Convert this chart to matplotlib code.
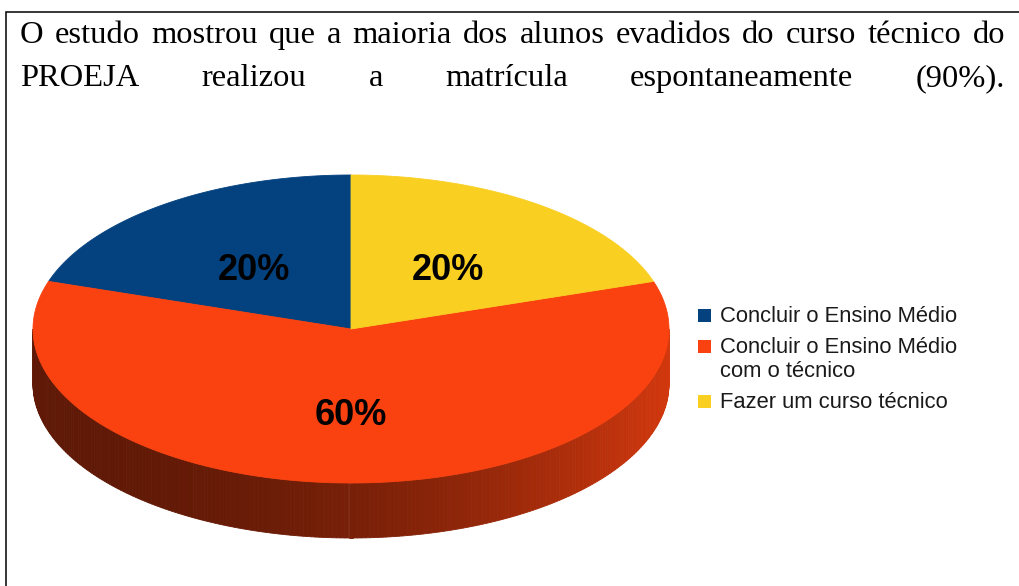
import numpy as np
import matplotlib.pyplot as plt
from matplotlib.patches import Polygon, Rectangle
from matplotlib.colors import to_rgb

# header text (justified, two lines)
header_lines = [
    "O estudo mostrou que a maioria dos alunos evadidos do curso técnico do",
    "PROEJA realizou a matrícula espontaneamente (90%).",
]

# pie data
labels = ["Concluir o Ensino Médio", "Concluir o Ensino Médio\ncom o técnico", "Fazer um curso técnico"]
values = [20, 60, 20]
colors = ["#03417f", "#fa4210", "#f9cf22"]

fig = plt.figure(figsize=(10.19, 5.86), dpi=100)
ax = fig.add_axes([0, 0, 1, 1])
ax.set_xlim(0, 1019)
ax.set_ylim(586, 0)
ax.axis("off")

# frame (left and top edges only are visible)
ax.plot([6.5, 6.5, 1019], [586, 11.5, 11.5], color="black", lw=1.1,
        solid_joinstyle="miter")

# justified header
renderer = fig.canvas.get_renderer()


def justify(line, y, x0=20, x1=1005):
    words = line.split()
    texts = [ax.text(0, y, w, fontsize=23.4, family="Liberation Serif",
                     va="baseline", ha="left") for w in words]
    widths = [t.get_window_extent(renderer).width for t in texts]
    gap = (x1 - x0 - sum(widths)) / (len(words) - 1)
    x = x0
    for t, w in zip(texts, widths):
        t.set_x(x)
        x += w + gap


justify(header_lines[0], 43)
justify(header_lines[1], 86)

# 3D-looking pie
cx, cy, a, b, depth = 351, 329, 318, 154, 55
total = sum(values)
start = 90
bounds = start + 360 * np.concatenate([[0], np.cumsum(values)]) / total


def pt(t, dy=0):
    r = np.radians(t)
    return cx + a * np.cos(r), cy - b * np.sin(r) + dy


# side walls (front half only)
for i, c in enumerate(colors):
    th1, th2 = bounds[i], bounds[i + 1]
    base = np.array(to_rgb(c))
    for k in (0, 360):
        lo, hi = max(th1, 180 + k), min(th2, 360 + k)
        if hi <= lo:
            continue
        ts = np.linspace(lo, hi, 240)
        for t0, t1 in zip(ts[:-1], ts[1:]):
            tm = np.radians((t0 + t1) / 2)
            u = (1 + np.cos(tm)) / 2
            f = 0.38 + 0.46 * u ** 2.2
            col = np.clip(base * f, 0, 1)
            poly = [pt(t0), pt(t1), pt(t1, depth), pt(t0, depth)]
            ax.add_patch(Polygon(poly, closed=True, facecolor=col,
                                 edgecolor=col, lw=0.6, zorder=1))

# top face wedges
for i, c in enumerate(colors):
    th1, th2 = bounds[i], bounds[i + 1]
    ts = np.linspace(th1, th2, 200)
    poly = [(cx, cy)] + [pt(t) for t in ts]
    ax.add_patch(Polygon(poly, closed=True, facecolor=c, edgecolor=c,
                         lw=0.6, zorder=2))

# percent labels
for i, v in enumerate(values):
    mid = (bounds[i] + bounds[i + 1]) / 2
    r = np.radians(mid)
    x = cx + a * 0.52 * np.cos(r)
    y = cy - b * 0.52 * np.sin(r)
    ax.text(x, y + 2, f"{v}%", fontsize=26, fontweight="bold",
            family="Liberation Sans", ha="center", va="center_baseline",
            color="black", zorder=3)

# legend
ycur = 322
for lab, c in zip(labels, colors):
    ax.add_patch(Rectangle((698, ycur - 13), 13, 13, facecolor=c,
                           edgecolor="none", zorder=3))
    for line in lab.split("\n"):
        ax.text(720, ycur, line, fontsize=15.8, family="Liberation Sans",
                va="baseline", ha="left", color="#1a1a1a")
        ycur += 24
    ycur += 7

fig.savefig("out.png", dpi=100)
